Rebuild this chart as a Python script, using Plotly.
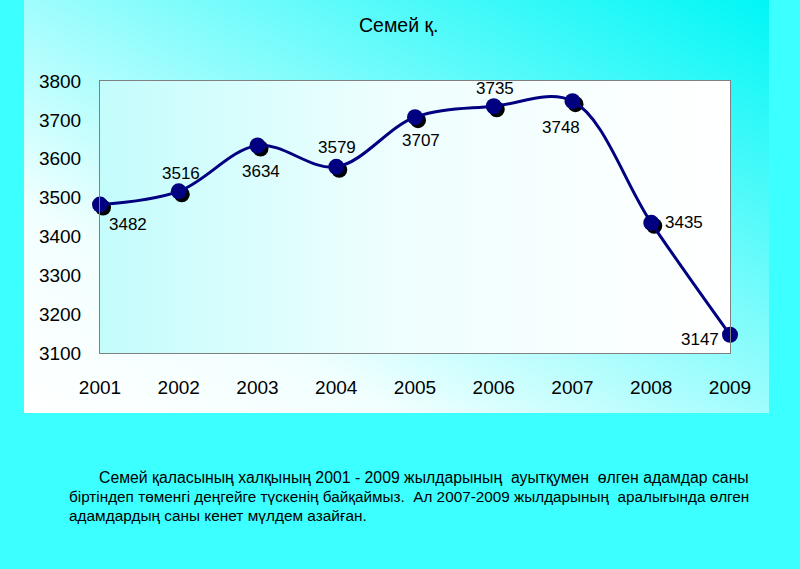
import base64
import plotly.graph_objects as go

# ---- data ----
years = [2001, 2002, 2003, 2004, 2005, 2006, 2007, 2008, 2009]
values = [3482, 3516, 3634, 3579, 3707, 3735, 3748, 3435, 3147]
year_labels = [str(y) for y in years]
y_ticks = [3100, 3200, 3300, 3400, 3500, 3600, 3700, 3800]
title_text = "Семей қ."
NB = "\u00a0"
caption_lines = [
    "Семей қаласының халқының 2001 - 2009 жылдарының " + NB + "ауытқумен " + NB + "өлген адамдар саны",
    "біртіндеп төменгі деңгейге түскенің байқаймыз. " + NB + "Ал 2007-2009 жылдарының " + NB + "аралығында өлген",
    "адамдардың саны кенет мүлдем азайған.",
]

# ---- styling / layout constants ----
W, H = 800, 569
PL, PR, PT, PB = 100, 730, 81, 353  # plot area in pixels
label_shift_x = [28, 2, 3, 1, 6, 1, -12, 33, -30]
label_shift_y = [-20, 18, -26, 19, -23, 18, -26, 0, -5]
FONT = "Liberation Sans, Arial, sans-serif"


def svg_grad(w, h, stops, x1=0, y1=0, x2=1, y2=0):
    st = "".join(f'<stop offset="{o}" stop-color="{c}"/>' for o, c in stops)
    svg = (f'<svg xmlns="http://www.w3.org/2000/svg" width="{w}" height="{h}" '
           f'viewBox="0 0 {w} {h}" preserveAspectRatio="none">'
           f'<defs><linearGradient id="g" x1="{x1}" y1="{y1}" x2="{x2}" y2="{y2}">{st}'
           f'</linearGradient></defs><rect x="0" y="0" width="{w}" height="{h}" fill="url(#g)"/></svg>')
    return "data:image/svg+xml;base64," + base64.b64encode(svg.encode()).decode()


def px_to_paper_x(px):
    return (px - PL) / (PR - PL)


def px_to_paper_y(py):
    return (PB - py) / (PB - PT)


fig = go.Figure()

# shadow of markers (offset a few pixels)
dx = 3 / ((PR - PL) / (years[-1] - years[0]))
dy = 3 / ((PB - PT) / (y_ticks[-1] - y_ticks[0]))
fig.add_trace(go.Scatter(
    x=[v + dx for v in years], y=[v - dy for v in values], mode="markers",
    marker=dict(size=16, color="#000000"), cliponaxis=False, hoverinfo="skip",
    showlegend=False))

fig.add_trace(go.Scatter(
    x=years, y=values, mode="lines+markers",
    line=dict(color="#000080", width=3, shape="spline", smoothing=1.0),
    marker=dict(size=16, color="#000080"), cliponaxis=False, showlegend=False))

annotations = []
for x, v, sx, sy in zip(years, values, label_shift_x, label_shift_y):
    annotations.append(dict(x=x, y=v, text=str(v), showarrow=False, xshift=sx, yshift=sy,
                            font=dict(size=17, color="#000000", family=FONT)))

annotations.append(dict(xref="paper", yref="paper", x=px_to_paper_x(398), y=px_to_paper_y(25),
                        text=title_text, showarrow=False, xanchor="center", yanchor="middle",
                        font=dict(size=19.5, color="#000000", family=FONT)))

cap_x = [97, 67, 67]
cap_y = [477, 496, 515]
cap_size = [15.8, 15.3, 15.4]
for t, cx, cy, cs in zip(caption_lines, cap_x, cap_y, cap_size):
    annotations.append(dict(xref="paper", yref="paper", x=px_to_paper_x(cx), y=px_to_paper_y(cy),
                            text=t, showarrow=False, xanchor="left", yanchor="middle",
                            font=dict(size=cs, color="#000000", family=FONT)))

images = [
    # chart panel gradient
    dict(source=svg_grad(745, 413, [(0, "#ffffff"), (0.25, "#f2ffff"), (0.6, "#7ffcfc"), (1, "#00f6f6")],
                         x1=0, y1=1, x2=1, y2=0),
         xref="paper", yref="paper", x=px_to_paper_x(24), y=px_to_paper_y(0),
         sizex=745 / (PR - PL), sizey=413 / (PB - PT), sizing="stretch",
         xanchor="left", yanchor="top", layer="below"),
    # plot area gradient
    dict(source=svg_grad(630, 272, [(0, "#c4fcfc"), (0.45, "#eefefe"), (1, "#ffffff")]),
         xref="paper", yref="paper", x=0, y=1, sizex=1, sizey=1, sizing="stretch",
         xanchor="left", yanchor="top", layer="below"),
]

fig.update_layout(
    width=W, height=H,
    margin=dict(l=PL, r=W - PR, t=PT, b=H - PB, pad=0),
    paper_bgcolor="#3cffff",
    plot_bgcolor="rgba(0,0,0,0)",
    annotations=annotations,
    images=images,
    xaxis=dict(range=[years[0], years[-1]], tickvals=years, ticktext=year_labels,
               showgrid=False, zeroline=False, showline=True, linecolor="#808080", linewidth=1,
               mirror=True, ticks="outside", ticklen=17, tickcolor="rgba(0,0,0,0)",
               tickfont=dict(size=19, color="#000000", family=FONT)),
    yaxis=dict(range=[y_ticks[0], y_ticks[-1]], tickvals=y_ticks,
               showgrid=False, zeroline=False, showline=True, linecolor="#808080", linewidth=1,
               mirror=True, ticks="outside", ticklen=14, tickcolor="rgba(0,0,0,0)",
               tickfont=dict(size=19, color="#000000", family=FONT)),
)

fig.write_html("out.html", config={"displayModeBar": False},
               post_script="document.body.style.margin='0';document.body.style.padding='0';")
